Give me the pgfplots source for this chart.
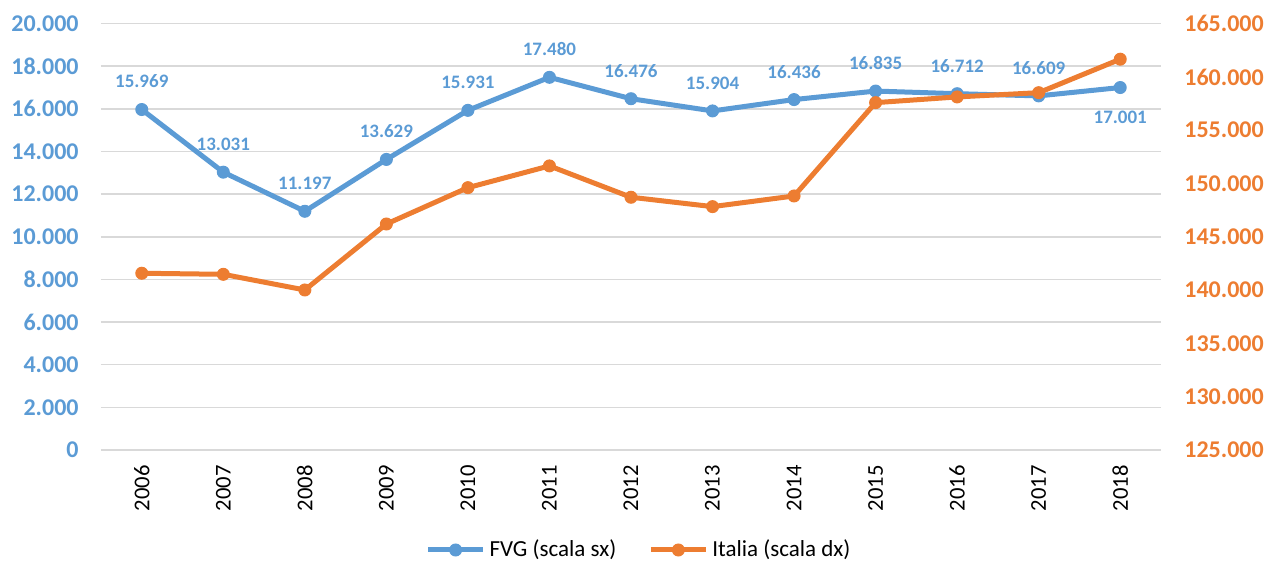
\documentclass[border=0pt]{standalone}
\usepackage{fontspec}
\setmainfont{Carlito}
\usepackage{pgfplots}
\pgfplotsset{compat=1.18}
\definecolor{fvg}{HTML}{5B9BD5}
\definecolor{ita}{HTML}{ED7D31}
\definecolor{gridc}{HTML}{D9D9D9}
\pgfplotsset{
  base/.style={
    width=530pt, height=213.2pt, scale only axis,
    xmin=2005.5, xmax=2018.5,
    major tick length=0pt,
    scaled y ticks=false,
    /pgf/number format/assume math mode=true,
    /pgf/number format/fixed,
    /pgf/number format/precision=0,
    /pgf/number format/1000 sep={.},
  }
}
\begin{document}
\begin{tikzpicture}
\useasboundingbox (-50.5pt,-58pt) rectangle (582.5pt,225pt);
\begin{axis}[base,
  ymin=0, ymax=20000, ytick={0,2000,...,20000},
  ymajorgrids, grid style={gridc, line width=0.75pt},
  axis line style={draw=none},
  xtick={2006,...,2018},
  xticklabel style={font=\fontsize{11.3}{13}\selectfont, rotate=90, anchor=east, inner sep=0pt, /pgf/number format/1000 sep={}},
  xticklabel shift=7.5pt,
  yticklabel style={font=\fontsize{12}{14}\selectfont\bfseries, text=fvg, inner sep=0pt},
  yticklabel shift=11pt,
  legend style={at={(0.5085,0)}, anchor=center, yshift=-50pt, draw=none, fill=none,
    font=\fontsize{11.5}{14}\selectfont, legend columns=2,
    /tikz/every even column/.append style={column sep=14pt}},
  legend image code/.code={\draw[mark repeat=2,mark phase=2,#1] plot coordinates {(0pt,0pt) (13.75pt,0pt) (27.5pt,0pt)};},
]
\addplot[fvg, line width=2.5pt, mark=*, mark size=3pt, mark options={solid, line width=0.5pt}] coordinates {
(2006,15969) (2007,13031) (2008,11197) (2009,13629) (2010,15931) (2011,17480) (2012,16476)
(2013,15904) (2014,16436) (2015,16835) (2016,16712) (2017,16609) (2018,17001)};
\addlegendentry{FVG (scala sx)}
\addlegendimage{ita, line width=2.5pt, mark=*, mark size=3pt, mark options={solid, line width=0.5pt}}
\addlegendentry{Italia (scala dx)}
\addplot[draw=none, mark=none, forget plot, point meta=explicit symbolic, nodes near coords,
  nodes near coords style={font=\fontsize{9.5}{11}\selectfont\bfseries, text=fvg, anchor=south, inner sep=0pt, yshift=10.5pt}] coordinates {
(2006,15969)[15.969] (2007,13031)[13.031] (2008,11197)[11.197] (2009,13629)[13.629] (2010,15931)[15.931]
(2011,17480)[17.480] (2012,16476)[16.476] (2013,15904)[15.904] (2014,16436)[16.436] (2015,16835)[16.835]
(2016,16712)[16.712] (2017,16609)[16.609]};
\addplot[draw=none, mark=none, forget plot, point meta=explicit symbolic, nodes near coords,
  nodes near coords style={font=\fontsize{9.5}{11}\selectfont\bfseries, text=fvg, anchor=north, inner sep=0pt, yshift=-11.5pt}] coordinates {
(2018,17001)[17.001]};
\end{axis}
\begin{axis}[base,
  ymin=125000, ymax=165000, ytick={125000,130000,...,165000},
  axis y line*=right, axis x line=none,
  y axis line style={draw=none},
  yticklabel style={font=\fontsize{12}{14}\selectfont\bfseries, text=ita, inner sep=0pt, anchor=west},
  yticklabel shift=11.5pt,
]
\addplot[ita, line width=2.5pt, mark=*, mark size=3pt, mark options={solid, line width=0.5pt}] coordinates {
(2006,141580) (2007,141480) (2008,140010) (2009,146200) (2010,149610) (2011,151650) (2012,148710)
(2013,147830) (2014,148830) (2015,157585) (2016,158120) (2017,158520) (2018,161660)};
\end{axis}
\end{tikzpicture}
\end{document}
